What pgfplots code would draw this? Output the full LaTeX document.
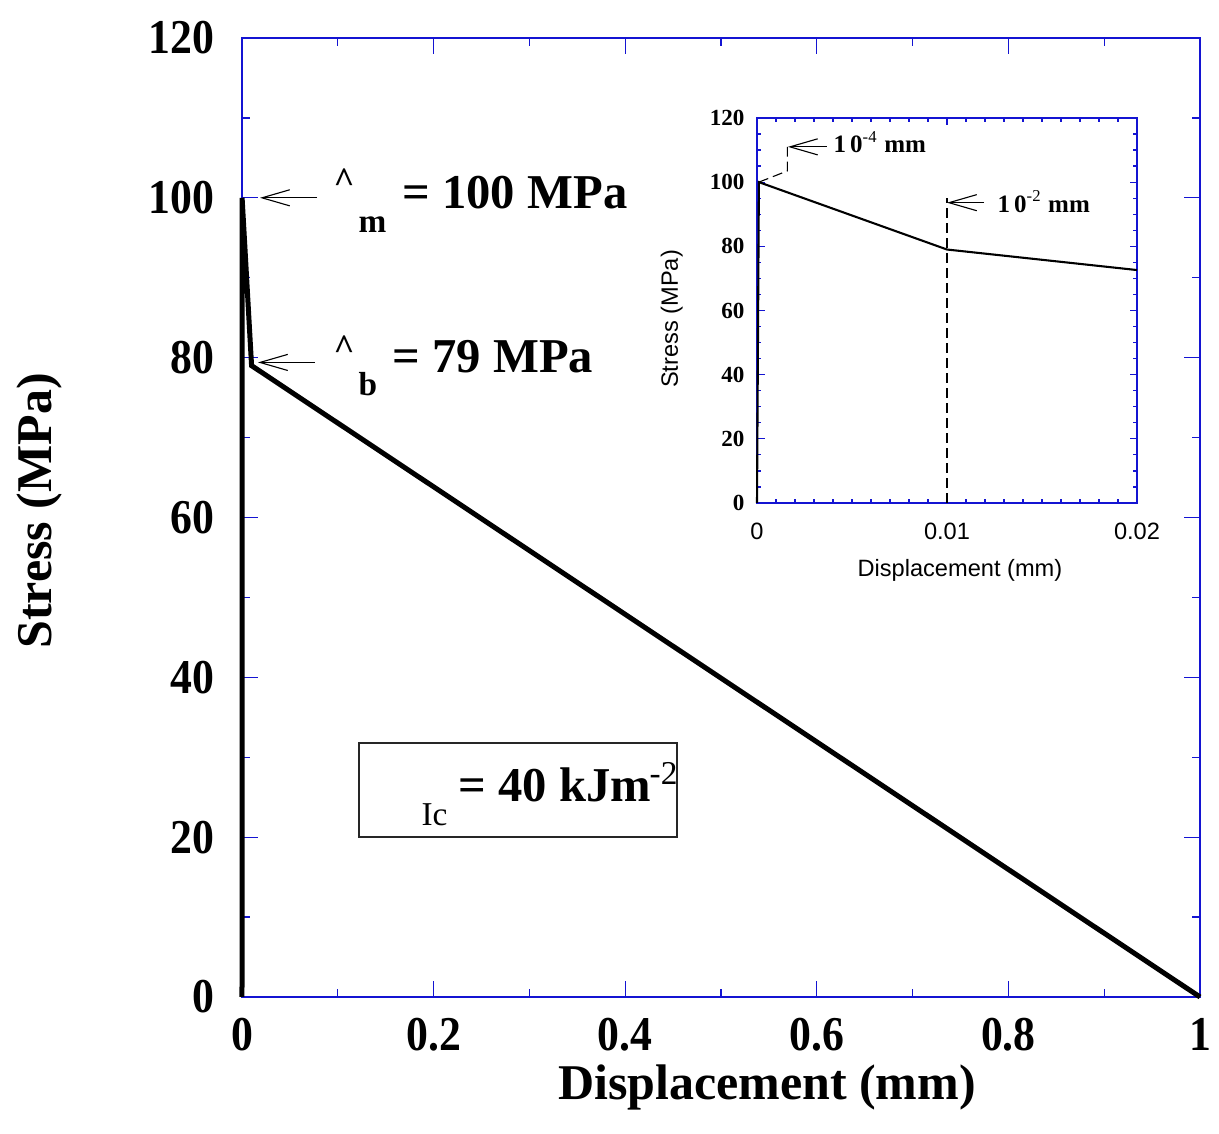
\documentclass[border=0pt]{standalone}
\usepackage{fontspec}
\setmainfont{Liberation Serif}
\setsansfont{Liberation Sans}
\newfontfamily\tickserif[FakeStretch=0.9]{Liberation Serif}
\usepackage{pgfplots}
\pgfplotsset{compat=1.18}
\usetikzlibrary{arrows.meta}
\definecolor{frameblue}{RGB}{20,20,210}

\tikzset{barb/.style={-{Straight Barb[length=10pt,width=5.8pt]}, line width=0.4pt}}

\begin{document}
\begin{tikzpicture}
% cohesive law: full range
\begin{axis}[
  name=main, at={(0pt,0pt)}, anchor=south west,
  scale only axis, width=344.88pt, height=345.24pt,
  xmin=0, xmax=1, ymin=0, ymax=120,
  clip=false,
  axis line style={frameblue, line width=0.5pt},
  tick style={frameblue, line width=0.45pt},
  major tick length=5.8pt, minor tick length=2.9pt,
  tick align=inside,
  xtick={0,0.2,0.4,0.6,0.8,1}, xticklabels={0,0.2,0.4,0.6,0.8,1},
  ytick={0,20,40,60,80,100,120}, yticklabels={0,20,40,60,80,100,120},
  minor x tick num=1, minor y tick num=1,
  ticklabel style={font=\tickserif\bfseries\fontsize{17.5}{20}\selectfont},
  xticklabel style={yshift=-4pt},
  yticklabel style={xshift=-6.5pt},
  xlabel={Displacement (mm)}, ylabel={Stress (MPa)},
  label style={font=\bfseries\fontsize{18}{21}\selectfont},
  xlabel style={at={(axis description cs:0.548,-0.094)}, anchor=center},
  ylabel style={at={(axis description cs:-0.2109,0.507)}, anchor=center},
]
\addplot[black, line width=1.8pt] coordinates {(0,0) (0.0001,100) (0.01,79) (1,0)};

% peak stress
\draw[barb] (axis cs:0.0783,100) -- (axis cs:0.0188,100);
\node[anchor=base west, inner sep=0pt, font=\bfseries\fontsize{13}{15}\selectfont] at (axis cs:0.095,100.7) {\textasciicircum};
\node[anchor=base west, inner sep=0pt, font=\bfseries\fontsize{12}{14}\selectfont] at (axis cs:0.1211,95.7) {m};
\node[anchor=base west, inner sep=0pt, font=\bfseries\fontsize{17.5}{20}\selectfont] at (axis cs:0.167,98.7) {= 100 MPa};

% bridging stress
\draw[barb] (axis cs:0.0762,79.4) -- (axis cs:0.0167,79.4);
\node[anchor=base west, inner sep=0pt, font=\bfseries\fontsize{13}{15}\selectfont] at (axis cs:0.095,79.8) {\textasciicircum};
\node[anchor=base west, inner sep=0pt, font=\bfseries\fontsize{12}{14}\selectfont] at (axis cs:0.1211,75.3) {b};
\node[anchor=base west, inner sep=0pt, font=\bfseries\fontsize{17.5}{20}\selectfont] at (axis cs:0.1566,78.2) {= 79 MPa};

% fracture energy
\draw[black!85, line width=0.6pt] (axis cs:0.122,20.0) rectangle (axis cs:0.454,31.8);
\node[anchor=base west, inner sep=0pt, font=\fontsize{12}{14}\selectfont] at (axis cs:0.1868,21.5) {Ic};
\node[anchor=base west, inner sep=0pt, font=\bfseries\fontsize{17.5}{20}\selectfont] at (axis cs:0.2255,24.4) {= 40 kJm};
\node[anchor=base west, inner sep=0pt, font=\fontsize{12}{14}\selectfont] at (axis cs:0.425,26.6) {-2};
\end{axis}

% close-up of the first 0.02 mm
\begin{axis}[
  name=inset, at={(185.4pt,177.84pt)}, anchor=south west,
  scale only axis, width=136.8pt, height=138.6pt,
  xmin=0, xmax=0.02, ymin=0, ymax=120, clip=false,
  scaled x ticks=false, scaled y ticks=false,
  axis line style={frameblue, line width=0.5pt},
  tick style={frameblue, line width=0.45pt},
  major tick length=2.7pt, minor tick length=1.4pt,
  tick align=inside,
  xtick={0,0.01,0.02}, xticklabels={0,0.01,0.02},
  ytick={0,20,40,60,80,100,120}, yticklabels={0,20,40,60,80,100,120},
  minor x tick num=9, minor y tick num=3,
  xticklabel style={font=\sffamily\fontsize{8.5}{10}\selectfont, yshift=-3.5pt},
  yticklabel style={font=\bfseries\fontsize{8.3}{10}\selectfont, xshift=-1pt},
  xlabel={Displacement (mm)}, ylabel={Stress (MPa)},
  label style={font=\sffamily\fontsize{8.5}{10}\selectfont},
  xlabel style={at={(axis description cs:0.534,-0.174)}, anchor=center},
  ylabel style={at={(axis description cs:-0.224,0.478)}, anchor=center},
]
\addplot[black, line width=0.75pt] coordinates {(0,0) (0.0001,100) (0.01,79) (0.02,72.6)};

\draw[black, line width=0.4pt, dash pattern=on 3.6pt off 1.8pt] (axis cs:0.0001,100) -- (axis cs:0.0016,103.5) -- (axis cs:0.0016,111);
\draw[barb] (axis cs:0.00368,111) -- (axis cs:0.00163,111);
\node[anchor=base west, inner sep=0pt, font=\fontsize{9}{11}\selectfont] at (axis cs:0.0040,109.1) {\textbf{1\,0}\textsuperscript{-4} \textbf{mm}};

\draw[black, line width=0.4pt, dash pattern=on 3.6pt off 1.8pt] (axis cs:0.01,0) -- (axis cs:0.01,95);
\draw[barb] (axis cs:0.01195,93.6) -- (axis cs:0.01,93.6);
\node[anchor=base west, inner sep=0pt, font=\fontsize{9}{11}\selectfont] at (axis cs:0.01263,90.6) {\textbf{1\,0}\textsuperscript{-2} \textbf{mm}};
\end{axis}

\pgfresetboundingbox
\path (-87.12pt,-49.32pt) rectangle (351.72pt,358.92pt);
\end{tikzpicture}
\end{document}
